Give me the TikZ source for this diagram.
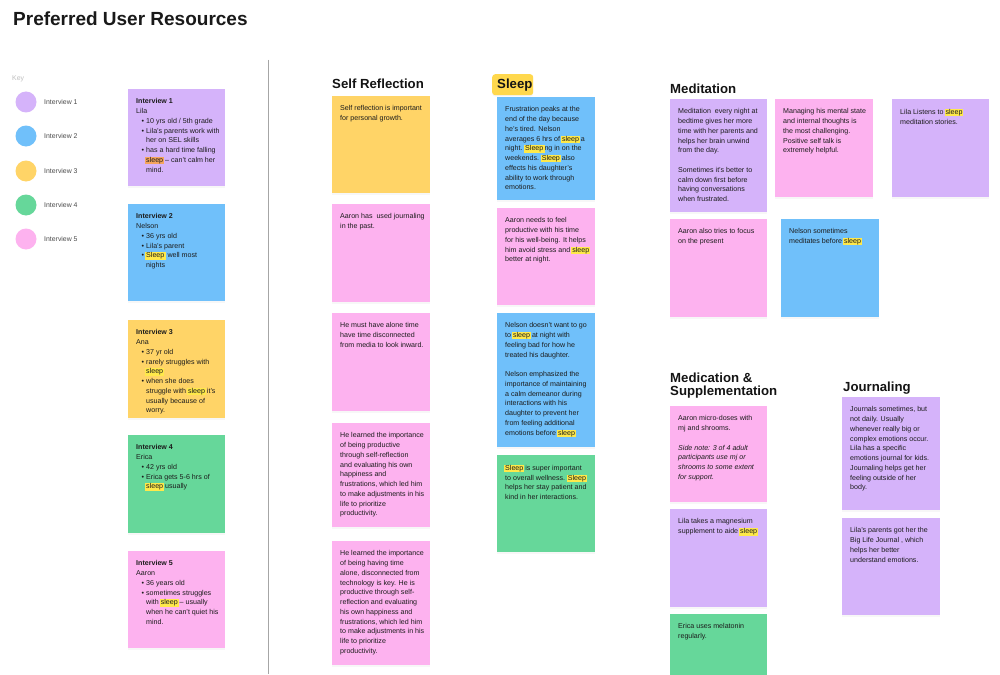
\documentclass[tikz,border=0pt]{standalone}
\usepackage{fontspec}
\setmainfont{Liberation Sans}
\usetikzlibrary{shadows}
\definecolor{cviolet}{HTML}{D5B3FA}
\definecolor{cblue}{HTML}{70C0FA}
\definecolor{cyellow}{HTML}{FFD467}
\definecolor{cgreen}{HTML}{66D79A}
\definecolor{cpink}{HTML}{FDB2EF}
\definecolor{hly}{HTML}{FFE94A}
\definecolor{hlo}{HTML}{F5A55E}
\definecolor{hlhead}{HTML}{FFD84D}
\definecolor{ink}{HTML}{1C1C1C}
\newcommand\hlbox[2]{{\setlength\fboxsep{0pt}\kern-0.9pt\colorbox{#1}{\rule[-1.8pt]{0pt}{7.4pt}\kern0.9pt#2\kern0.9pt}\kern-0.9pt}}
\newcommand\hl[1]{\hlbox{hly}{#1}}
\newcommand\hlo[1]{\hlbox{hlo}{#1}}
\newcommand\bu{\hspace*{5.5pt}\makebox[4.5pt][l]{\textbullet}}
\newcommand\ind{\hspace*{10pt}}
\newcommand\stk[7]{%
  \node[stickybox, fill=#2, minimum width=#5pt, minimum height=#6pt, anchor=north west] (#1) at (#3,#4) {};
  \node[stickytxt, anchor=north west] (#1t) at ([xshift=8pt,yshift=-9.6pt]#1.north west) {#7};}
\begin{document}
\begin{tikzpicture}[x=1pt,y=-1pt,
  stickybox/.style={inner sep=0pt, draw=none, drop shadow={opacity=0.06, shadow xshift=0pt, shadow yshift=-1.8pt}},
  stickytxt/.style={inner sep=0pt, align=left, font=\fontsize{7.1}{9.75}\selectfont, text=ink, execute at begin node=\rule{0pt}{5.3pt}},
  header/.style={inner sep=0pt, anchor=west, font=\fontsize{13.2}{13.5}\selectfont\bfseries, text=black!92, align=left},
  keydot/.style={circle, inner sep=0pt, minimum size=21pt, draw=none},
  keylbl/.style={inner sep=0pt, anchor=west, font=\fontsize{6.9}{8}\selectfont, text=black!70}]
\useasboundingbox (0,0) rectangle (1000,674);
\fill[white] (0,0) rectangle (1000,674);

% title
\node[inner sep=0pt, anchor=west, font=\fontsize{19}{22}\selectfont\bfseries, text=black!90] (title) at (13,18.5) {Preferred User Resources};

% key
\node[inner sep=0pt, anchor=west, font=\fontsize{6.9}{8}\selectfont, text=black!25] (key) at (12,79) {Key};
\node[keydot, fill=cviolet] (k1) at (26,102) {};
\node[keydot, fill=cblue] (k2) at (26,136) {};
\node[keydot, fill=cyellow] (k3) at (26,171) {};
\node[keydot, fill=cgreen] (k4) at (26,205) {};
\node[keydot, fill=cpink] (k5) at (26,239) {};
\node[keylbl] (kl1) at (44,102) {Interview 1};
\node[keylbl] (kl2) at (44,136) {Interview 2};
\node[keylbl] (kl3) at (44,171) {Interview 3};
\node[keylbl] (kl4) at (44,205) {Interview 4};
\node[keylbl] (kl5) at (44,239) {Interview 5};

% interviews
\stk{i1}{cviolet}{128}{89}{97}{97}{\textbf{Interview 1}\\Lila\\\bu 10 yrs old / 5th grade\\\bu Lila's parents work with\\\ind her on SEL skills\\\bu has a hard time falling\\\ind\hlo{sleep} -- can't calm her\\\ind mind.}
\stk{i2}{cblue}{128}{204}{97}{97}{\textbf{Interview 2}\\Nelson\\\bu 36 yrs old\\\bu Lila's parent\\\bu \hl{Sleep\,} well most\\\ind nights}
\stk{i3}{cyellow}{128}{320}{97}{98}{\textbf{Interview 3}\\Ana\\\bu 37 yr old\\\bu rarely struggles with\\\ind\hl{sleep}\\\bu when she does\\\ind struggle with \hl{sleep} it's\\\ind usually because of\\\ind worry.}
\stk{i4}{cgreen}{128}{435}{97}{98}{\textbf{Interview 4}\\Erica\\\bu 42 yrs old\\\bu Erica gets 5-6 hrs of\\\ind\hl{sleep} usually}
\stk{i5}{cpink}{128}{551}{97}{97}{\textbf{Interview 5}\\Aaron\\\bu 36 years old\\\bu sometimes struggles\\\ind with \hl{sleep} -- usually\\\ind when he can't quiet his\\\ind mind.}

% separator
\coordinate (sepA) at (268,60);
\coordinate (sepB) at (268,674);
\draw[black!35, line width=0.9pt] (sepA) -- (sepB);

% Self Reflection
\node[header] (hsr) at (332,84) {Self Reflection};
\stk{sr1}{cyellow}{332}{96}{98}{97}{Self reflection is important\\for personal growth.}
\stk{sr2}{cpink}{332}{204}{98}{98}{Aaron has\ \ used journaling\\in the past.}
\stk{sr3}{cpink}{332}{313}{98}{98}{He must have alone time\\have time disconnected\\from media to look inward.}
\stk{sr4}{cpink}{332}{423}{98}{104}{He learned the importance\\of being productive\\through self-reflection\\and evaluating his own\\happiness and\\frustrations, which led him\\to make adjustments in his\\life to prioritize\\productivity.}
\stk{sr5}{cpink}{332}{541}{98}{124}{He learned the importance\\of being having time\\alone, disconnected from\\technology is key. He is\\productive through self-\\reflection and evaluating\\his own happiness and\\frustrations, which led him\\to make adjustments in his\\life to prioritize\\productivity.}

% Sleep
\node[inner sep=0pt, anchor=north west, minimum width=41pt, minimum height=21pt, fill=hlhead, rounded corners=3pt, drop shadow={opacity=0.08, shadow xshift=0pt, shadow yshift=-1.2pt}] (hslbg) at (492,74) {};
\node[header] (hsl) at (497,85) {Sleep};
\stk{sl1}{cblue}{497}{97}{98}{103}{Frustration peaks at the\\end of the day because\\he's tired. Nelson\\averages 6 hrs of \hl{sleep} a\\night. \hl{Sleep\,}ng in on the\\weekends. \hl{Sleep} also\\effects his daughter's\\ability to work through\\emotions.}
\stk{sl2}{cpink}{497}{208}{98}{97}{Aaron needs to feel\\productive with his time\\for his well-being. It helps\\him avoid stress and \hl{sleep}\\better at night.}
\stk{sl3}{cblue}{497}{313}{98}{134}{Nelson doesn't want to go\\to \hl{sleep} at night with\\feeling bad for how he\\treated his daughter.\\[9.75pt]Nelson emphasized the\\importance of maintaining\\a calm demeanor during\\interactions with his\\daughter to prevent her\\from feeling additional\\emotions before \hl{sleep}}
\stk{sl4}{cgreen}{497}{455}{98}{97}{\hl{Sleep} is super important\\to overall wellness. \hl{Sleep}\\helps her stay patient and\\kind in her interactions.}

% Meditation
\node[header] (hmd) at (670,89) {Meditation};
\stk{md1}{cviolet}{670}{99}{97}{113}{Meditation\ \ every night at\\bedtime gives her more\\time with her parents and\\helps her brain unwind\\from the day.\\[9.75pt]Sometimes it's better to\\calm down first before\\having conversations\\when frustrated.}
\stk{md2}{cpink}{775}{99}{98}{98}{Managing his mental state\\and internal thoughts is\\the most challenging.\\Positive self talk is\\extremely helpful.}
\stk{md3}{cviolet}{892}{99}{97}{98}{Lila Listens to \hl{sleep}\\meditation stories.}
\stk{md4}{cpink}{670}{219}{97}{98}{Aaron also tries to focus\\on the present}
\stk{md5}{cblue}{781}{219}{98}{98}{Nelson sometimes\\meditates before \hl{sleep}}

% Medication & Supplementation
\node[header] (hms) at (670,385.5) {Medication \&\\Supplementation};
\stk{ms1}{cpink}{670}{406}{97}{96}{Aaron micro-doses with\\mj and shrooms.\\[9.75pt]\textit{Side note: 3 of 4 adult}\\\textit{participants use mj or}\\\textit{shrooms to some extent}\\\textit{for support.}}
\stk{ms2}{cviolet}{670}{509}{97}{98}{Lila takes a magnesium\\supplement to aide \hl{sleep}}
\stk{ms3}{cgreen}{670}{614}{97}{98}{Erica uses melatonin\\regularly.}

% Journaling
\node[header] (hjn) at (843,388) {Journaling};
\stk{jn1}{cviolet}{842}{397}{98}{113}{Journals sometimes, but\\not daily. Usually\\whenever really big or\\complex emotions occur.\\Lila has a specific\\emotions journal for kids.\\Journaling helps get her\\feeling outside of her\\body.}
\stk{jn2}{cviolet}{842}{518}{98}{97}{Lila's parents got her the\\Big Life Journal , which\\helps her better\\understand emotions.}
\end{tikzpicture}
\end{document}
